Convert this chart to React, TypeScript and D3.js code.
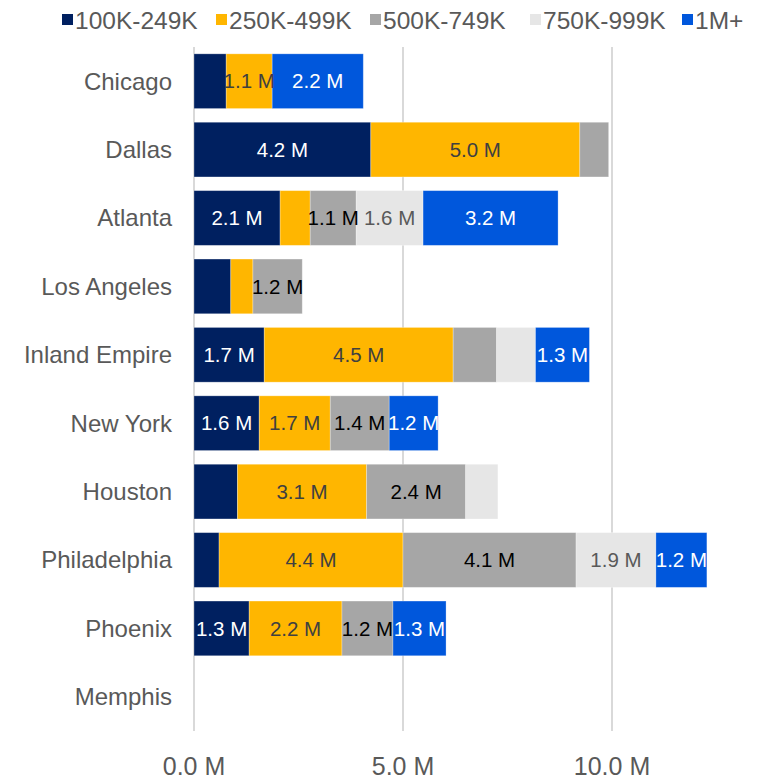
import React from "react";
import * as d3 from "d3";

const categories = ["Chicago", "Dallas", "Atlanta", "Los Angeles", "Inland Empire", "New York", "Houston", "Philadelphia", "Phoenix", "Memphis"];
const seriesNames = ["100K-249K", "250K-499K", "500K-749K", "750K-999K", "1M+"];
const s100 = [0.77, 4.23, 2.06, 0.88, 1.68, 1.56, 1.04, 0.6, 1.32, 0];
const s250 = [1.1, 5.0, 0.72, 0.53, 4.52, 1.7, 3.09, 4.4, 2.22, 0];
const s500 = [0, 0.69, 1.1, 1.18, 1.04, 1.41, 2.37, 4.14, 1.22, 0];
const s750 = [0, 0, 1.6, 0, 0.93, 0, 0.77, 1.91, 0, 0];
const s1m = [2.18, 0, 3.23, 0, 1.29, 1.17, 0, 1.22, 1.27, 0];
const xTicks = [0, 5, 10];
const colors = ["#002060", "#FFB600", "#A6A6A6", "#E6E6E6", "#0057DC"];
const labelColors = ["#FFFFFF", "#404040", "#000000", "#595959", "#FFFFFF"];

export default function App() {
  const W = 758, H = 780;
  const series = [s100, s250, s500, s750, s1m];
  const x = d3.scaleLinear().domain([0, 10]).range([194, 612]);
  const y = d3.scaleBand().domain(categories).range([47, 731]).paddingInner(0.2).paddingOuter(0.1);
  const rows = categories.map((c, i) => {
    let acc = 0;
    return series.map((s, k) => {
      const v = s[i];
      const seg = { k, x0: acc, x1: acc + v, v };
      acc += v;
      return seg;
    });
  });
  const font = "'Liberation Sans', Arial, Helvetica, sans-serif";
  const legendX = [62, 216, 370, 530, 682];
  return (
    <svg width={W} height={H} style={{ position: "absolute", left: 0, top: 0, fontFamily: font }}>
      <rect width={W} height={H} fill="#fff" />
      {xTicks.map((t) => (
        <line key={t} x1={x(t)} x2={x(t)} y1={47} y2={731} stroke="#D9D9D9" strokeWidth={2} />
      ))}
      {rows.map((segs, i) =>
        segs.filter((s) => s.v > 0).map((s) => (
          <rect key={categories[i] + s.k} x={x(s.x0)} y={y(categories[i])} width={x(s.x1) - x(s.x0)} height={y.bandwidth()} fill={colors[s.k]} stroke="rgba(255,255,255,0.35)" strokeWidth={0.8} />
        ))
      )}
      {rows.map((segs, i) =>
        segs.filter((s) => s.v >= 1.095).map((s) => (
          <text key={"l" + categories[i] + s.k} x={(x(s.x0) + x(s.x1)) / 2} y={y(categories[i])! + y.bandwidth() / 2} dy="0.35em" textAnchor="middle" fontSize={20.5} fill={labelColors[s.k]}>
            {d3.format(".1f")(s.v) + " M"}
          </text>
        ))
      )}
      {categories.map((c) => (
        <text key={c} x={172} y={y(c)! + y.bandwidth() / 2} dy="0.35em" textAnchor="end" fontSize={24} fill="#595959">{c}</text>
      ))}
      {xTicks.map((t) => (
        <text key={"t" + t} x={x(t)} y={766} dy="0.35em" textAnchor="middle" fontSize={25} fill="#595959">{d3.format(".1f")(t) + " M"}</text>
      ))}
      {seriesNames.map((n, k) => (
        <g key={n}>
          <rect x={legendX[k]} y={14} width={11} height={11} fill={colors[k]} />
          <text x={legendX[k] + 13} y={20} dy="0.35em" fontSize={24.5} fill="#595959">{n}</text>
        </g>
      ))}
    </svg>
  );
}
